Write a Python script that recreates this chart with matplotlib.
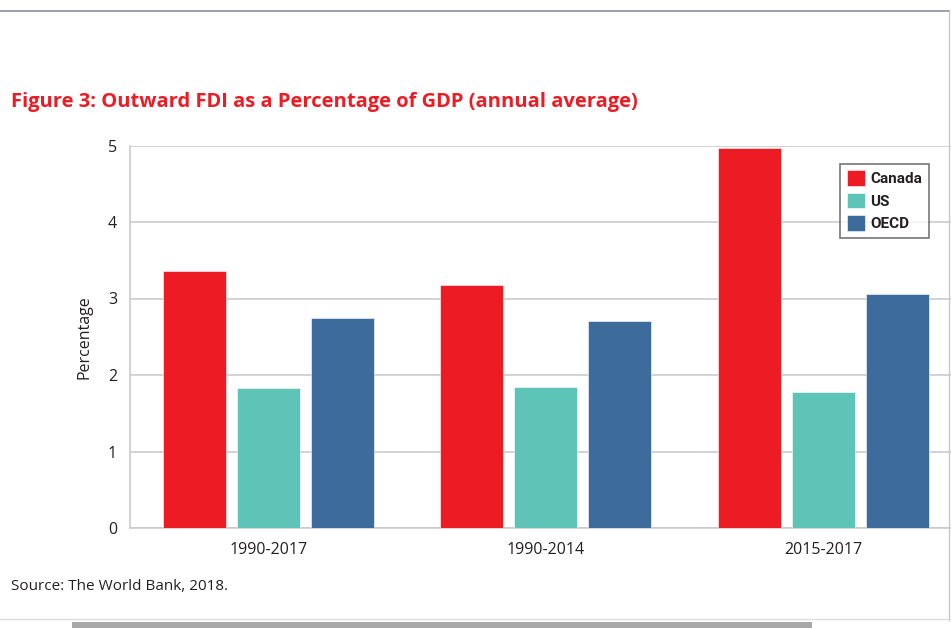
import matplotlib.pyplot as plt
import numpy as np
from matplotlib.patches import Rectangle
from matplotlib.lines import Line2D

periods = ['1990-2017', '1990-2014', '2015-2017']
canada = [3.36, 3.17, 4.97]
us = [1.83, 1.84, 1.78]
oecd = [2.74, 2.70, 3.06]
series_names = ['Canada', 'US', 'OECD']
colors = ['#ED1C24', '#5FC4B8', '#3D6B9B']

W, H = 951, 628
fig = plt.figure(figsize=(W / 100, H / 100), dpi=100)

# axes placed in pixel terms; the right end runs past the page like the original
left, bottom, top = 129.5, 528, 145.5
width = 3 * 277.5
ax = fig.add_axes([left / W, (H - bottom) / H, width / W, (bottom - top) / H])

x = np.arange(len(periods))
bw = 63 / 277.5
step = 74 / 277.5
for i, (vals, c) in enumerate(zip([canada, us, oecd], colors)):
    ax.bar(x + (i - 1) * step, vals, bw, color=c, edgecolor='#ffffff',
           linewidth=0.4, label=series_names[i], zorder=3)

ax.set_xlim(-0.5, 2.5)
ax.set_ylim(0, 5)
ax.set_yticks([0, 1, 2, 3, 4, 5])
ax.set_xticks(x)
ax.set_xticklabels(periods)
ax.yaxis.grid(True, color='#C8C8C8', linewidth=1.1, zorder=0)
ax.tick_params(length=0, colors='#231F20', pad=9)
ax.tick_params(axis='x', pad=10)
for lab in ax.get_xticklabels() + ax.get_yticklabels():
    lab.set_fontfamily('Open Sans')
    lab.set_fontsize(11.5)
for s in ['top', 'right']:
    ax.spines[s].set_visible(False)
ax.spines['left'].set_color('#C8C8C8')
ax.spines['bottom'].set_color('#C8C8C8')
ax.spines['left'].set_linewidth(1.1)
ax.spines['bottom'].set_linewidth(1.1)

ax.set_ylabel('Percentage', fontsize=11.5, fontfamily='Open Sans', color='#231F20', labelpad=11)

leg = ax.legend(loc='upper left', bbox_to_anchor=((840 - left) / width, (bottom - 163.5) / (bottom - top)),
                frameon=True, fancybox=False, edgecolor='#555555', handlelength=1.2,
                handleheight=1.2, handletextpad=0.35, borderpad=0.45, labelspacing=0.42,
                borderaxespad=0,
                prop={'family': 'Roboto', 'weight': 'bold', 'size': 11})
leg.get_frame().set_linewidth(1.2)
for t in leg.get_texts():
    t.set_color('#231F20')

fig.text(11 / W, 1 - 102 / H, 'Figure 3: Outward FDI as a Percentage of GDP (annual average)',
         color='#ED1C24', fontsize=14.5, fontweight='bold', fontfamily='Open Sans',
         va='center', ha='left')
fig.text(11 / W, 1 - 587 / H, 'Source: The World Bank, 2018.', color='#231F20',
         fontsize=11, fontfamily='Open Sans', va='center', ha='left')

# page edges from the screenshot
fig.add_artist(Line2D([0, 949 / W], [1 - 11 / H, 1 - 11 / H], color='#8A8F99', linewidth=1.2))
fig.add_artist(Line2D([949 / W, 949 / W], [1 - 11 / H, 1 - 620 / H], color='#C8C8C8', linewidth=1))
fig.add_artist(Line2D([0, 1], [1 - 619 / H, 1 - 619 / H], color='#DDDDDD', linewidth=1))
fig.add_artist(Rectangle((72 / W, 0), (812 - 72) / W, 6 / H, transform=fig.transFigure,
                         color='#A8A8A8', linewidth=0))

fig.savefig('out.png', dpi=100)
